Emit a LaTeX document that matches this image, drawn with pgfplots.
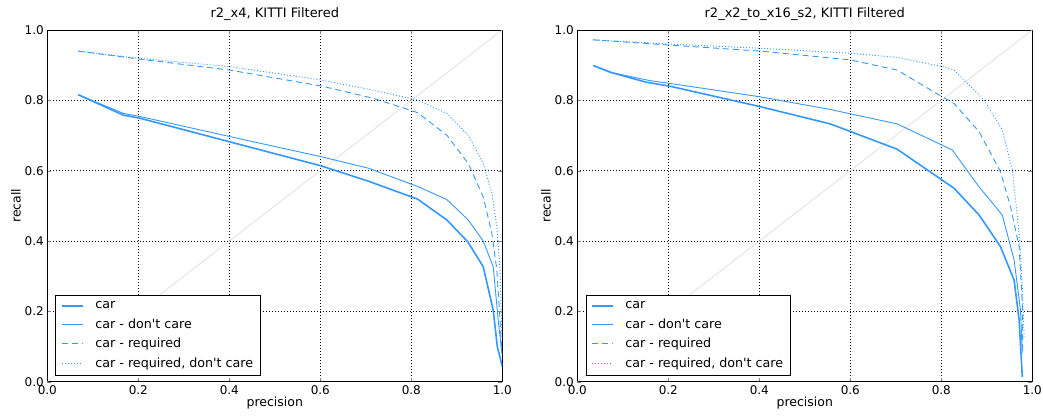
\documentclass[border=0pt]{standalone}
\usepackage{fontspec}
\setmainfont{DejaVu Sans}
\usepackage{pgfplots}
\pgfplotsset{compat=1.18}

\definecolor{carblue}{HTML}{3399FF}
\definecolor{diaggray}{HTML}{D8D8D8}

\newcommand{\apos}{\textquotesingle}

\pgfplotsset{
  prcurve/.style={
    width=455pt, height=351.7pt, scale only axis,
    xmin=0, xmax=1, ymin=0, ymax=1,
    xtick={0,0.2,...,1}, ytick={0,0.2,...,1},
    xticklabel style={/pgf/number format/.cd, fixed, fixed zerofill, precision=1},
    yticklabel style={/pgf/number format/.cd, fixed, fixed zerofill, precision=1},
    /pgf/number format/assume math mode=true,
    tick align=inside, tick pos=both, major tick length=4pt,
    grid=major, grid style={black, line width=0.6pt, dash pattern=on 1pt off 2pt},
    axis line style={black, line width=0.8pt},
    every tick label/.append style={font=\fontsize{12}{14}\selectfont, black},
    label style={font=\fontsize{12.5}{14}\selectfont},
    title style={font=\fontsize{13}{15}\selectfont, yshift=0pt},
    xlabel={precision}, ylabel={recall},
    xlabel style={yshift=4pt}, ylabel style={yshift=-3pt},
    legend cell align=left,
    legend style={at={(0.018,0.018)}, anchor=south west, draw=black,
      line width=0.6pt, font=\fontsize{12.7}{15}\selectfont,
      row sep=4.5pt, inner xsep=5pt, inner ysep=4pt,
      /tikz/every odd column/.append style={column sep=10pt}},
    legend image code/.code={
      \draw[mark repeat=2, mark phase=2, ##1]
        plot coordinates {(0pt,0pt) (10.5pt,0pt) (21pt,0pt)};},
  },
  car/.style={carblue, line width=1.6pt},
  cardc/.style={carblue, line width=0.9pt},
  carreq/.style={carblue, line width=0.9pt, dash pattern=on 6pt off 4pt},
  carreqdc/.style={carblue, line width=0.9pt, dash pattern=on 1pt off 2pt},
}

\begin{document}
\begin{tikzpicture}
\useasboundingbox (-47.3pt,-33.3pt) rectangle (995.7pt,381.7pt);

% left panel
\begin{axis}[prcurve, at={(0pt,0pt)}, title={r2\_x4, KITTI Filtered}]
  \addplot[diaggray, line width=0.6pt, forget plot] coordinates {(0,0) (1,1)};
  \addplot[car] coordinates {
    (0.068,0.816) (0.167,0.758) (0.204,0.749) (0.401,0.682) (0.601,0.614)
    (0.706,0.570) (0.814,0.519) (0.878,0.460) (0.924,0.398) (0.958,0.327)
    (0.980,0.204) (0.989,0.100) (1.000,0.043)};
  \addlegendentry{car}
  \addplot[cardc] coordinates {
    (0.068,0.816) (0.167,0.763) (0.204,0.754) (0.401,0.697) (0.601,0.640)
    (0.706,0.607) (0.814,0.555) (0.878,0.518) (0.925,0.460) (0.958,0.400)
    (0.980,0.327) (0.991,0.175) (0.999,0.081)};
  \addlegendentry{car - don\apos t care}
  \addplot[carreq] coordinates {
    (0.068,0.940) (0.204,0.917) (0.401,0.886) (0.601,0.841) (0.716,0.806)
    (0.814,0.765) (0.878,0.701) (0.925,0.621) (0.958,0.526) (0.977,0.422)
    (0.988,0.318) (0.995,0.175) (0.999,0.080)};
  \addlegendentry{car - required}
  \addplot[carreqdc] coordinates {
    (0.068,0.940) (0.204,0.919) (0.401,0.896) (0.601,0.858) (0.716,0.829)
    (0.814,0.801) (0.878,0.763) (0.925,0.701) (0.958,0.621) (0.977,0.536)
    (0.988,0.441) (0.995,0.318) (0.999,0.128)};
  \addlegendentry{car - required, don\apos t care}
\end{axis}

% right panel
\begin{axis}[prcurve, at={(530pt,0pt)}, title={r2\_x2\_to\_x16\_s2, KITTI Filtered}]
  \addplot[diaggray, line width=0.6pt, forget plot] coordinates {(0,0) (1,1)};
  \addplot[car] coordinates {
    (0.035,0.899) (0.072,0.880) (0.150,0.852) (0.204,0.840) (0.402,0.782)
    (0.556,0.733) (0.703,0.661) (0.828,0.550) (0.883,0.474) (0.930,0.384)
    (0.960,0.289) (0.971,0.175) (0.978,0.014)};
  \addlegendentry{car}
  \addplot[cardc] coordinates {
    (0.035,0.899) (0.079,0.878) (0.160,0.856) (0.204,0.848) (0.402,0.810)
    (0.556,0.774) (0.703,0.733) (0.824,0.659) (0.883,0.554) (0.934,0.474)
    (0.960,0.346) (0.974,0.204) (0.978,0.081)};
  \addlegendentry{car - don\apos t care}
  \addplot[carreq] coordinates {
    (0.035,0.972) (0.204,0.957) (0.402,0.940) (0.600,0.915) (0.703,0.886)
    (0.802,0.810) (0.828,0.791) (0.883,0.711) (0.930,0.597) (0.952,0.498)
    (0.971,0.384) (0.978,0.223) (0.979,0.080)};
  \addlegendentry{car - required}
  \addplot[carreqdc] coordinates {
    (0.035,0.972) (0.204,0.960) (0.402,0.948) (0.600,0.934) (0.703,0.922)
    (0.802,0.896) (0.828,0.886) (0.894,0.801) (0.934,0.716) (0.956,0.602)
    (0.971,0.422) (0.978,0.270) (0.982,0.128)};
  \addlegendentry{car - required, don\apos t care}
\end{axis}
\end{tikzpicture}
\end{document}
